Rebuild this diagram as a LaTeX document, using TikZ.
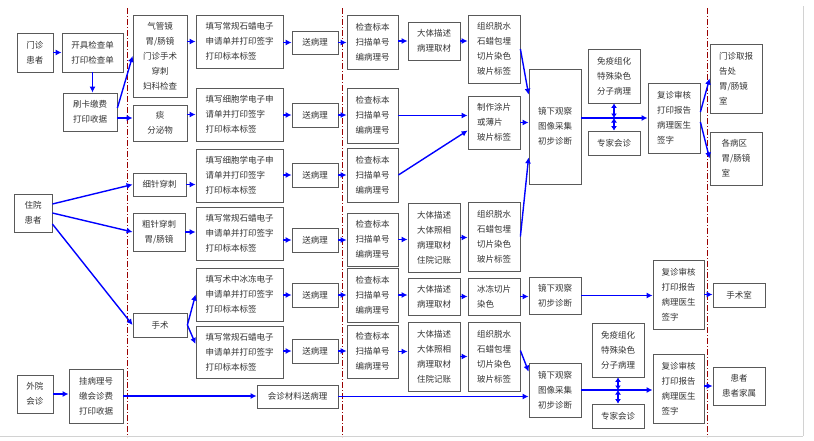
\documentclass[tikz,border=0pt]{standalone}
\usepackage{fontspec}
\newfontfamily\cjk{Noto Sans CJK SC}
\usetikzlibrary{arrows.meta}

\tikzset{
  box/.style={draw=gray!70!black, line width=0.8pt, fill=white, inner sep=0pt, text=black!80,
    font=\cjk\fontsize{8.5pt}{15pt}\selectfont},
  freccia/.style={draw=blue, line width=1.4pt, -{Latex[length=6pt,width=6pt]}},
  freccia2/.style={draw=blue, line width=1.4pt, {Latex[length=4.5pt,width=6pt]}-{Latex[length=4.5pt,width=6pt]}},
  confine/.style={draw=red!60!black, line width=0.9pt, dash pattern=on 6pt off 2pt on 1pt off 2pt},
}

\begin{document}
\begin{tikzpicture}[x=1pt, y=-1pt]
            \useasboundingbox (0,0) rectangle (814,440);

            % Bordo e linee tratteggiate
            \draw[gray!35, line width=1pt] (0,436) -- (803,436) (803,6) -- (803,436);
            \foreach \x in {127, 342, 707} {
                    \draw[confine] (\x,8) -- (\x,437);
                }

            % Nodi
            \foreach \n/\xa/\ya/\xb/\yb/\al/\testo in {
                    mz/17/33/53/72/center/{门诊\\患者},
                    kj/62/33/123/72/center/{开具检查单\\打印检查单},
                    sk/63/93/117/131/center/{刷卡缴费\\打印收据},
                    zy/14/194/52/232/center/{住院\\患者},
                    wy/17/375/53/413/center/{外院\\会诊},
                    gb/69/369/123/423/center/{挂病理号\\缴会诊费\\打印收据},
                    b1/133/15/187/97/center/{气管镜\\胃/肠镜\\门诊手术\\穿刺\\妇科检查},
                    b2/133/105/187/141/center/{痰\\分泌物},
                    b3/133/173/186/196/center/{细针穿刺},
                    b4/133/213/185/251/center/{粗针穿刺\\胃/肠镜},
                    b5/133/313/187/337/center/{手术},
                    c1/196/15/283/68/left/{填写常规石蜡电子\\申请单并打印签字\\打印标本标签},
                    c2/196/88/283/141/left/{填写细胞学电子申\\请单并打印签字\\打印标本标签},
                    c3/196/149/283/202/left/{填写细胞学电子申\\请单并打印签字\\打印标本标签},
                    c4/196/207/283/260/left/{填写常规石蜡电子\\申请单并打印签字\\打印标本标签},
                    c5/196/268/283/321/left/{填写术中冰冻电子\\申请单并打印签字\\打印标本标签},
                    c6/196/326/283/378/left/{填写常规石蜡电子\\申请单并打印签字\\打印标本标签},
                    hz/257/385/338/408/center/{会诊材料送病理},
                    f1/408/22/460/60/center/{大体描述\\病理取材},
                    f4/408/203/460/272/center/{大体描述\\大体照相\\病理取材\\住院记账},
                    f5/408/278/460/315/center/{大体描述\\病理取材},
                    f6/408/322/460/391/center/{大体描述\\大体照相\\病理取材\\住院记账},
                    g1/468/15/520/83/center/{组织脱水\\石蜡包埋\\切片染色\\玻片标签},
                    g2/468/96/520/149/left/{制作涂片\\或薄片\\玻片标签},
                    g4/468/202/520/271/center/{组织脱水\\石蜡包埋\\切片染色\\玻片标签},
                    g5/468/278/520/315/left/{冰冻切片\\染色},
                    g6/468/322/520/391/center/{组织脱水\\石蜡包埋\\切片染色\\玻片标签},
                    h1/529/69/581/184/center/{镜下观察\\图像采集\\初步诊断},
                    h5/529/277/581/314/center/{镜下观察\\初步诊断},
                    h6/529/363/581/417/center/{镜下观察\\图像采集\\初步诊断},
                    i1/588/49/640/103/center/{免疫组化\\特殊染色\\分子病理},
                    j1/588/131/640/155/center/{专家会诊},
                    i6/592/323/644/377/center/{免疫组化\\特殊染色\\分子病理},
                    j6/592/404/644/428/center/{专家会诊},
                    k1/648/83/700/153/left/{复诊审核\\打印报告\\病理医生\\签字},
                    k5/653/260/704/329/left/{复诊审核\\打印报告\\病理医生\\签字},
                    k6/653/354/704/423/left/{复诊审核\\打印报告\\病理医生\\签字},
                    l1/710/44/762/113/left/{门诊取报\\告处\\胃/肠镜\\室},
                    l2/710/132/762/185/left/{各病区\\胃/肠镜\\室},
                    l5/713/283/765/307/center/{手术室},
                    l6/713/367/765/405/center/{患者\\患者家属}} {
                    \node[box, align=\al, minimum width={(\xb-\xa)*1pt}, minimum height={(\yb-\ya)*1pt}]
                        (\n) at ({(\xa+\xb)/2},{(\ya+\yb)/2}) {\testo};
                }

            %送病理 e 检查标本
            \foreach \i/\ya/\yb/\yc/\yd in {1/31/54/15/69, 2/103/127/88/143, 3/163/187/148/202,
                    4/228/252/213/266, 5/283/307/268/322, 6/339/363/325/378} {
                    \node[box, minimum width=46pt, minimum height={(\yb-\ya)*1pt}] (d\i) at (315,{(\ya+\yb)/2}) {送病理};
                    \node[box, align=center, minimum width=51pt, minimum height={(\yd-\yc)*1pt}] (e\i) at (372.5,{(\yc+\yd)/2}) {检查标本\\扫描单号\\编病理号};
                }

            % Frecce
            \foreach \a/\b in {mz/kj, b3/c3, b4/c4, d1/e1, d2/e2, d3/e3, d4/e4, d5/e5, d6/e6, f1/g1, e2/g2, g2/h1,
                    e4/f4, f4/g4, e5/f5, f5/g5, g5/h5, h5/k5, k5/l5, e6/f6, f6/g6, wy/gb, gb/hz, hz/h6, h6/k6} {
                    \draw[freccia] (\a.east) -- (\a.east -| \b.west);
                }
            \foreach \a/\b in {b1/c1, b2/c2, c1/d1, c2/d2, c3/d3, c4/d4, c5/d5, c6/d6, e1/f1, h1/k1, k6/l6} {
                    \draw[freccia] (\a.east |- \b.west) -- (\b.west);
                }
            \draw[freccia] (kj.south) -- (kj.south |- sk.north);
            \draw[freccia] ([yshift=4pt]sk.east) -- (b1.west);
            \draw[freccia] ([yshift=-6pt]sk.east) -- ([yshift=5pt]b2.west);
            \draw[freccia] ([yshift=9pt]zy.east) -- (b3.west);
            \draw[freccia] (zy.east) -- (b4.west);
            \draw[freccia] ([yshift=-11pt]zy.east) -- (b5.west);
            \draw[freccia] (b5.east) -- (c5.west);
            \draw[freccia] (b5.east) -- ([yshift=8pt]c6.west);
            \draw[freccia] (g1.east) -- ([yshift=-26pt]h1.north west);
            \draw[freccia] (e3.east) -- ([yshift=-8pt]g2.west);
            \draw[freccia] (g4.east) -- ([yshift=27pt]h1.south west);
            \draw[freccia] ([yshift=6pt]g6.east) -- ([yshift=-9pt]h6.north west);
            \draw[freccia] ([yshift=6pt]k1.east) -- (l1.west);
            \draw[freccia] ([yshift=-4pt]k1.east) -- (l2.west);

            % Consulti
            \coordinate (n1) at (i1.south |- k1.west);
            \coordinate (n6) at (i6.south |- h6.east);
            \foreach \n/\i/\j in {n1/i1/j1, n6/i6/j6} {
                    \draw[freccia2] (\n) -- (\i.south);
                    \draw[freccia2] (\n) -- (\j.north);
                }
        \end{tikzpicture}
\end{document}
